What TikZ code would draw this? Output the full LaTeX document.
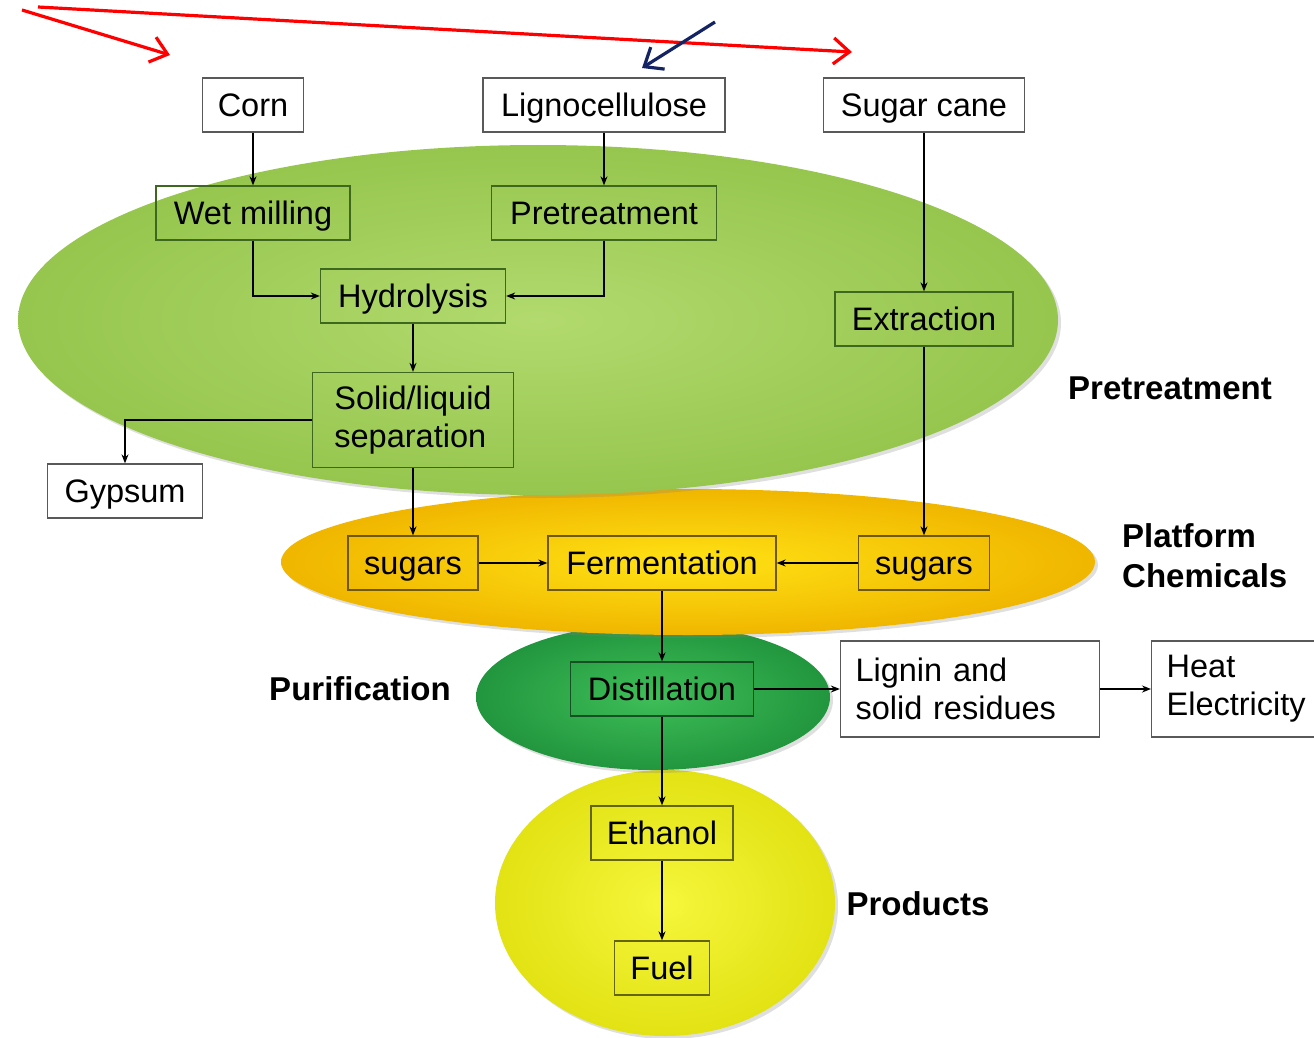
\documentclass[tikz,border=0pt]{standalone}
\usepackage{fontspec}
\setmainfont{Liberation Sans}
\usetikzlibrary{positioning,arrows.meta,shadows}

\definecolor{leafgreen}{RGB}{150,198,78}
\definecolor{leaflight}{RGB}{178,218,110}
\definecolor{leafedge}{RGB}{62,104,30}
\definecolor{gold}{RGB}{240,182,0}
\definecolor{goldlight}{RGB}{255,226,20}
\definecolor{goldedge}{RGB}{110,88,10}
\definecolor{deepgreen}{RGB}{34,150,62}
\definecolor{deeplight}{RGB}{62,190,88}
\definecolor{deepedge}{RGB}{20,80,35}
\definecolor{lemon}{RGB}{226,226,20}
\definecolor{lemonlight}{RGB}{246,246,60}
\definecolor{lemonedge}{RGB}{100,100,10}
\definecolor{navy}{RGB}{20,35,100}

\begin{document}
\begin{tikzpicture}[x=1pt,y=-1pt]
    \tikzstyle{every node}=[font=\fontsize{32.5}{38}\selectfont,inner sep=0,minimum height=54,text height=23.3pt,text depth=1pt]
    \tikzstyle{src}=[draw=black!65,line width=1.3,fill=white]
    \tikzstyle{procbox}=[line width=1.3]
    \tikzstyle{twoline}=[text height=,text depth=,minimum height=96]
    \tikzstyle{stage}=[font=\fontsize{33}{40}\selectfont\bfseries,minimum height=0,align=left,text height=,text depth=]
    \tikzstyle{blob}=[drop shadow={opacity=0.25,shadow xshift=3pt,shadow yshift=-3pt}]
    \tikzstyle{flow}=[->,>={Stealth[length=9pt,width=7pt]},line width=1.3]
    \tikzstyle{pointer}=[->,>={Straight Barb[length=16pt,width=26pt]},line width=3.2]
    \useasboundingbox (0,0) rectangle (1314,1038);

    % the four stages
    \path[blob,shade,inner color=lemonlight,outer color=lemon] (665,903) ellipse (170 and 133);
    \path[blob,shade,inner color=deeplight,outer color=deepgreen] (653,697) ellipse (177 and 73);
    \path[blob,shade,inner color=goldlight,outer color=gold] (688,562) ellipse (407 and 73);
    \path[blob,shade,inner color=leaflight,outer color=leafgreen] (538,320) ellipse (520 and 175);

    % feedstocks
    \node[src,minimum width=101] (corn) at (253,105) {Corn};
    \node[src,minimum width=242] (ligno) at (604,105) {Lignocellulose};
    \node[src,minimum width=201] (cane) at (924,105) {Sugar cane};

    % pretreatment
    \node[draw=leafedge,procbox,minimum width=194] (wet) at (253,213) {Wet milling};
    \node[draw=leafedge,procbox,minimum width=225] (pret) at (604,213) {Pretreatment};
    \node[draw=leafedge,procbox,minimum width=185] (hyd) at (413,296) {Hydrolysis};
    \node[draw=leafedge,procbox,minimum width=178] (extr) at (924,319) {Extraction};
    \node[draw=leafedge,procbox,twoline,minimum width=201,minimum height=95,align=left] (sep) at (413,420) {Solid/liquid\\separation};
    \node[src,minimum width=155] (gyp) at (125,491) {Gypsum};

    % platform chemicals
    \node[draw=goldedge,procbox,minimum width=130] (sugL) at (413,563) {sugars};
    \node[draw=goldedge,procbox,minimum width=228] (ferm) at (662,563) {Fermentation};
    \node[draw=goldedge,procbox,minimum width=131] (sugR) at (924,563) {sugars};

    % purification
    \node[draw=deepedge,procbox,minimum width=183] (dist) at (662,689) {Distillation};
    \node[src,twoline,minimum width=259,text width=229,align=left] (lig) at (970,689) {Lignin and\\solid residues};
    \node[src,twoline,anchor=west,minimum width=180,text width=150,align=left] (heat) at (1151,689) {Heat\\Electricity};

    % products
    \node[draw=lemonedge,procbox,minimum width=142] (eth) at (662,833) {Ethanol};
    \node[draw=lemonedge,procbox,minimum width=95] (fuel) at (662,968) {Fuel};

    % stage names
    \node[stage] (lpre) at (1170,388) {Pretreatment};
    \node[stage,anchor=west] (lplat) at (1122,556) {Platform\\Chemicals};
    \node[stage] (lpur) at (360,689) {Purification};
    \node[stage] (lpro) at (918,904) {Products};

    \path[flow]
        (corn) edge (wet)
        (ligno) edge (pret)
        (cane) edge (extr)
        (hyd) edge (sep)
        (sep) edge (sugL)
        (extr) edge (sugR)
        (sugL) edge (ferm)
        (sugR) edge (ferm)
        (ferm) edge (dist)
        (dist) edge (lig)
        (lig) edge (heat)
        (dist) edge (eth)
        (eth) edge (fuel);
    \draw[flow] (wet.south) |- (hyd.west);
    \draw[flow] (pret.south) |- (hyd.east);
    \draw[flow] (sep.west) -| (gyp.north);

    % pointers on top
    \coordinate (r1) at (22,10);
    \coordinate (r1e) at (170,55);
    \coordinate (r2) at (38,7);
    \coordinate (r2e) at (852,52);
    \coordinate (b1) at (715,22);
    \coordinate (b1e) at (642,68);
    \draw[pointer,red] (r1) -- (r1e);
    \draw[pointer,red] (r2) -- (r2e);
    \draw[pointer,navy] (b1) -- (b1e);
\end{tikzpicture}
\end{document}
